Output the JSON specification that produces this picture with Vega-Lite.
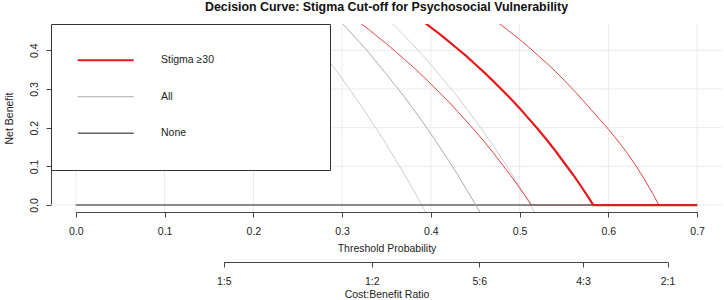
{
  "$schema": "https://vega.github.io/schema/vega-lite/v6.json",
  "width": 671,
  "height": 188,
  "autosize": {"type": "none"},
  "padding": {"left": 51, "top": 24, "right": 2, "bottom": 88},
  "background": "white",
  "title": {
    "text": "Decision Curve: Stigma Cut-off for Psychosocial Vulnerability",
    "anchor": "middle",
    "frame": "group",
    "offset": 10,
    "font": "Liberation Sans",
    "fontSize": 12.4,
    "fontWeight": "bold",
    "color": "#111111"
  },
  "config": {
    "view": {"stroke": null},
    "axis": {
      "domainColor": "#444444",
      "tickColor": "#444444",
      "tickSize": 5,
      "grid": false,
      "labelFont": "Liberation Sans",
      "labelFontSize": 10.5,
      "labelColor": "#222222",
      "titleFont": "Liberation Sans",
      "titleFontSize": 10.5,
      "titleFontWeight": "normal",
      "titleColor": "#222222",
      "labelFlush": false,
      "labelOverlap": false
    },
    "legend": {
      "orient": "top-left",
      "offset": 0,
      "padding": 31,
      "fillColor": "white",
      "strokeColor": "#333333",
      "symbolType": "M-4,0H4",
      "symbolSize": 196,
      "symbolFillColor": "transparent",
      "symbolOffset": 18.5,
      "labelOffset": 50,
      "rowPadding": 25.5,
      "labelFont": "Liberation Sans",
      "labelFontSize": 10.5,
      "labelColor": "#222222"
    }
  },
  "datasets": {
    "curves": [
      {"series": "None", "bound": "estimate", "t": 0.0, "nb": 0},
      {"series": "None", "bound": "estimate", "t": 0.7, "nb": 0},

      {"series": "All", "bound": "lower", "t": 0.24, "nb": 0.502},
      {"series": "All", "bound": "lower", "t": 0.25, "nb": 0.475},
      {"series": "All", "bound": "lower", "t": 0.26, "nb": 0.447},
      {"series": "All", "bound": "lower", "t": 0.27, "nb": 0.418},
      {"series": "All", "bound": "lower", "t": 0.28, "nb": 0.388},
      {"series": "All", "bound": "lower", "t": 0.29, "nb": 0.358},
      {"series": "All", "bound": "lower", "t": 0.30, "nb": 0.327},
      {"series": "All", "bound": "lower", "t": 0.31, "nb": 0.294},
      {"series": "All", "bound": "lower", "t": 0.32, "nb": 0.261},
      {"series": "All", "bound": "lower", "t": 0.33, "nb": 0.227},
      {"series": "All", "bound": "lower", "t": 0.34, "nb": 0.192},
      {"series": "All", "bound": "lower", "t": 0.35, "nb": 0.156},
      {"series": "All", "bound": "lower", "t": 0.36, "nb": 0.118},
      {"series": "All", "bound": "lower", "t": 0.37, "nb": 0.080},
      {"series": "All", "bound": "lower", "t": 0.38, "nb": 0.040},
      {"series": "All", "bound": "lower", "t": 0.39, "nb": -0.001},
      {"series": "All", "bound": "lower", "t": 0.40, "nb": -0.044},

      {"series": "All", "bound": "estimate", "t": 0.28, "nb": 0.518},
      {"series": "All", "bound": "estimate", "t": 0.29, "nb": 0.494},
      {"series": "All", "bound": "estimate", "t": 0.30, "nb": 0.470},
      {"series": "All", "bound": "estimate", "t": 0.31, "nb": 0.445},
      {"series": "All", "bound": "estimate", "t": 0.32, "nb": 0.420},
      {"series": "All", "bound": "estimate", "t": 0.33, "nb": 0.394},
      {"series": "All", "bound": "estimate", "t": 0.34, "nb": 0.366},
      {"series": "All", "bound": "estimate", "t": 0.35, "nb": 0.338},
      {"series": "All", "bound": "estimate", "t": 0.36, "nb": 0.309},
      {"series": "All", "bound": "estimate", "t": 0.37, "nb": 0.280},
      {"series": "All", "bound": "estimate", "t": 0.38, "nb": 0.249},
      {"series": "All", "bound": "estimate", "t": 0.39, "nb": 0.217},
      {"series": "All", "bound": "estimate", "t": 0.40, "nb": 0.184},
      {"series": "All", "bound": "estimate", "t": 0.41, "nb": 0.150},
      {"series": "All", "bound": "estimate", "t": 0.42, "nb": 0.115},
      {"series": "All", "bound": "estimate", "t": 0.43, "nb": 0.079},
      {"series": "All", "bound": "estimate", "t": 0.44, "nb": 0.041},
      {"series": "All", "bound": "estimate", "t": 0.45, "nb": 0.002},
      {"series": "All", "bound": "estimate", "t": 0.46, "nb": -0.038},

      {"series": "All", "bound": "upper", "t": 0.34, "nb": 0.506},
      {"series": "All", "bound": "upper", "t": 0.35, "nb": 0.484},
      {"series": "All", "bound": "upper", "t": 0.36, "nb": 0.461},
      {"series": "All", "bound": "upper", "t": 0.37, "nb": 0.438},
      {"series": "All", "bound": "upper", "t": 0.38, "nb": 0.414},
      {"series": "All", "bound": "upper", "t": 0.39, "nb": 0.389},
      {"series": "All", "bound": "upper", "t": 0.40, "nb": 0.363},
      {"series": "All", "bound": "upper", "t": 0.41, "nb": 0.336},
      {"series": "All", "bound": "upper", "t": 0.42, "nb": 0.308},
      {"series": "All", "bound": "upper", "t": 0.43, "nb": 0.280},
      {"series": "All", "bound": "upper", "t": 0.44, "nb": 0.250},
      {"series": "All", "bound": "upper", "t": 0.45, "nb": 0.219},
      {"series": "All", "bound": "upper", "t": 0.46, "nb": 0.187},
      {"series": "All", "bound": "upper", "t": 0.47, "nb": 0.154},
      {"series": "All", "bound": "upper", "t": 0.48, "nb": 0.120},
      {"series": "All", "bound": "upper", "t": 0.49, "nb": 0.084},
      {"series": "All", "bound": "upper", "t": 0.50, "nb": 0.047},
      {"series": "All", "bound": "upper", "t": 0.51, "nb": 0.008},
      {"series": "All", "bound": "upper", "t": 0.52, "nb": -0.032},

      {"series": "Stigma ≥30", "bound": "lower", "t": 0.30, "nb": 0.505},
      {"series": "Stigma ≥30", "bound": "lower", "t": 0.31, "nb": 0.489},
      {"series": "Stigma ≥30", "bound": "lower", "t": 0.32, "nb": 0.471},
      {"series": "Stigma ≥30", "bound": "lower", "t": 0.33, "nb": 0.454},
      {"series": "Stigma ≥30", "bound": "lower", "t": 0.34, "nb": 0.435},
      {"series": "Stigma ≥30", "bound": "lower", "t": 0.35, "nb": 0.417},
      {"series": "Stigma ≥30", "bound": "lower", "t": 0.36, "nb": 0.397},
      {"series": "Stigma ≥30", "bound": "lower", "t": 0.37, "nb": 0.377},
      {"series": "Stigma ≥30", "bound": "lower", "t": 0.38, "nb": 0.357},
      {"series": "Stigma ≥30", "bound": "lower", "t": 0.39, "nb": 0.335},
      {"series": "Stigma ≥30", "bound": "lower", "t": 0.40, "nb": 0.313},
      {"series": "Stigma ≥30", "bound": "lower", "t": 0.41, "nb": 0.290},
      {"series": "Stigma ≥30", "bound": "lower", "t": 0.42, "nb": 0.267},
      {"series": "Stigma ≥30", "bound": "lower", "t": 0.43, "nb": 0.242},
      {"series": "Stigma ≥30", "bound": "lower", "t": 0.44, "nb": 0.217},
      {"series": "Stigma ≥30", "bound": "lower", "t": 0.45, "nb": 0.191},
      {"series": "Stigma ≥30", "bound": "lower", "t": 0.46, "nb": 0.164},
      {"series": "Stigma ≥30", "bound": "lower", "t": 0.47, "nb": 0.136},
      {"series": "Stigma ≥30", "bound": "lower", "t": 0.48, "nb": 0.106},
      {"series": "Stigma ≥30", "bound": "lower", "t": 0.49, "nb": 0.076},
      {"series": "Stigma ≥30", "bound": "lower", "t": 0.50, "nb": 0.044},
      {"series": "Stigma ≥30", "bound": "lower", "t": 0.51, "nb": 0.012},
      {"series": "Stigma ≥30", "bound": "lower", "t": 0.513, "nb": 0},
      {"series": "Stigma ≥30", "bound": "lower", "t": 0.70, "nb": 0},

      {"series": "Stigma ≥30", "bound": "upper", "t": 0.45, "nb": 0.513},
      {"series": "Stigma ≥30", "bound": "upper", "t": 0.46, "nb": 0.498},
      {"series": "Stigma ≥30", "bound": "upper", "t": 0.47, "nb": 0.481},
      {"series": "Stigma ≥30", "bound": "upper", "t": 0.48, "nb": 0.464},
      {"series": "Stigma ≥30", "bound": "upper", "t": 0.49, "nb": 0.446},
      {"series": "Stigma ≥30", "bound": "upper", "t": 0.50, "nb": 0.428},
      {"series": "Stigma ≥30", "bound": "upper", "t": 0.51, "nb": 0.409},
      {"series": "Stigma ≥30", "bound": "upper", "t": 0.52, "nb": 0.388},
      {"series": "Stigma ≥30", "bound": "upper", "t": 0.53, "nb": 0.368},
      {"series": "Stigma ≥30", "bound": "upper", "t": 0.54, "nb": 0.346},
      {"series": "Stigma ≥30", "bound": "upper", "t": 0.55, "nb": 0.323},
      {"series": "Stigma ≥30", "bound": "upper", "t": 0.56, "nb": 0.299},
      {"series": "Stigma ≥30", "bound": "upper", "t": 0.57, "nb": 0.274},
      {"series": "Stigma ≥30", "bound": "upper", "t": 0.58, "nb": 0.248},
      {"series": "Stigma ≥30", "bound": "upper", "t": 0.59, "nb": 0.222},
      {"series": "Stigma ≥30", "bound": "upper", "t": 0.60, "nb": 0.196},
      {"series": "Stigma ≥30", "bound": "upper", "t": 0.61, "nb": 0.168},
      {"series": "Stigma ≥30", "bound": "upper", "t": 0.62, "nb": 0.138},
      {"series": "Stigma ≥30", "bound": "upper", "t": 0.63, "nb": 0.105},
      {"series": "Stigma ≥30", "bound": "upper", "t": 0.64, "nb": 0.069},
      {"series": "Stigma ≥30", "bound": "upper", "t": 0.65, "nb": 0.029},
      {"series": "Stigma ≥30", "bound": "upper", "t": 0.657, "nb": 0},
      {"series": "Stigma ≥30", "bound": "upper", "t": 0.70, "nb": 0},

      {"series": "Stigma ≥30", "bound": "estimate", "t": 0.37, "nb": 0.509},
      {"series": "Stigma ≥30", "bound": "estimate", "t": 0.38, "nb": 0.493},
      {"series": "Stigma ≥30", "bound": "estimate", "t": 0.39, "nb": 0.477},
      {"series": "Stigma ≥30", "bound": "estimate", "t": 0.40, "nb": 0.459},
      {"series": "Stigma ≥30", "bound": "estimate", "t": 0.41, "nb": 0.442},
      {"series": "Stigma ≥30", "bound": "estimate", "t": 0.42, "nb": 0.423},
      {"series": "Stigma ≥30", "bound": "estimate", "t": 0.43, "nb": 0.404},
      {"series": "Stigma ≥30", "bound": "estimate", "t": 0.44, "nb": 0.385},
      {"series": "Stigma ≥30", "bound": "estimate", "t": 0.45, "nb": 0.364},
      {"series": "Stigma ≥30", "bound": "estimate", "t": 0.46, "nb": 0.343},
      {"series": "Stigma ≥30", "bound": "estimate", "t": 0.47, "nb": 0.321},
      {"series": "Stigma ≥30", "bound": "estimate", "t": 0.48, "nb": 0.298},
      {"series": "Stigma ≥30", "bound": "estimate", "t": 0.49, "nb": 0.275},
      {"series": "Stigma ≥30", "bound": "estimate", "t": 0.50, "nb": 0.250},
      {"series": "Stigma ≥30", "bound": "estimate", "t": 0.51, "nb": 0.224},
      {"series": "Stigma ≥30", "bound": "estimate", "t": 0.52, "nb": 0.198},
      {"series": "Stigma ≥30", "bound": "estimate", "t": 0.53, "nb": 0.170},
      {"series": "Stigma ≥30", "bound": "estimate", "t": 0.54, "nb": 0.141},
      {"series": "Stigma ≥30", "bound": "estimate", "t": 0.55, "nb": 0.110},
      {"series": "Stigma ≥30", "bound": "estimate", "t": 0.56, "nb": 0.079},
      {"series": "Stigma ≥30", "bound": "estimate", "t": 0.57, "nb": 0.046},
      {"series": "Stigma ≥30", "bound": "estimate", "t": 0.58, "nb": 0.011},
      {"series": "Stigma ≥30", "bound": "estimate", "t": 0.583, "nb": 0},
      {"series": "Stigma ≥30", "bound": "estimate", "t": 0.70, "nb": 0}
    ],
    "gridX": [{"t": 0.0}, {"t": 0.1}, {"t": 0.2}, {"t": 0.3}, {"t": 0.4}, {"t": 0.5}, {"t": 0.6}, {"t": 0.7}],
    "gridY": [{"nb": 0.0}, {"nb": 0.1}, {"nb": 0.2}, {"nb": 0.3}, {"nb": 0.4}],
    "ratios": [
      {"ratio": "1:5", "t": 0.16667},
      {"ratio": "1:2", "t": 0.33333},
      {"ratio": "5:6", "t": 0.45455},
      {"ratio": "4:3", "t": 0.57143},
      {"ratio": "2:1", "t": 0.66667}
    ]
  },
  "layer": [
    {
      "layer": [
        {
          "data": {"name": "gridX"},
          "mark": {"type": "rule", "color": "#ebebeb", "strokeWidth": 1},
          "encoding": {
            "x": {"field": "t", "type": "quantitative",
                  "scale": {"domain": [0, 0.7], "range": [{"expr": "width*0.028/0.756"}, {"expr": "width*0.728/0.756"}], "nice": false, "zero": false},
                  "axis": {"values": [0, 0.1, 0.2, 0.3, 0.4, 0.5, 0.6, 0.7], "format": ".1f", "title": "Threshold Probability", "labelPadding": 9, "titlePadding": 7}}
          }
        },
        {
          "data": {"name": "gridY"},
          "mark": {"type": "rule", "color": "#ebebeb", "strokeWidth": 1},
          "encoding": {
            "y": {"field": "nb", "type": "quantitative",
                  "scale": {"domain": [0, 0.4], "range": [{"expr": "height*0.468/0.486"}, {"expr": "height*0.068/0.486"}], "nice": false, "zero": false},
                  "axis": {"values": [0, 0.1, 0.2, 0.3, 0.4], "format": ".1f", "title": "Net Benefit", "labelAngle": 270, "labelAlign": "center", "labelBaseline": "bottom", "labelPadding": 7, "titlePadding": 15, "titleY": {"expr": "height/2"}}}
          }
        },
        {
          "data": {"name": "curves"},
          "transform": [{"filter": "datum.series === 'All' && datum.bound !== 'estimate'"}],
          "mark": {"type": "line", "clip": true, "color": "#cfcfcf", "strokeWidth": 1},
          "encoding": {
            "x": {"field": "t", "type": "quantitative", "scale": {"domain": [0, 0.7], "range": [{"expr": "width*0.028/0.756"}, {"expr": "width*0.728/0.756"}], "nice": false, "zero": false}},
            "y": {"field": "nb", "type": "quantitative", "scale": {"domain": [0, 0.4], "range": [{"expr": "height*0.468/0.486"}, {"expr": "height*0.068/0.486"}], "nice": false, "zero": false}},
            "detail": {"field": "bound"}
          }
        },
        {
          "data": {"name": "curves"},
          "transform": [{"filter": "datum.series === 'Stigma ≥30' && datum.bound !== 'estimate'"}],
          "mark": {"type": "line", "clip": true, "color": "#e34448", "strokeWidth": 1},
          "encoding": {
            "x": {"field": "t", "type": "quantitative", "scale": {"domain": [0, 0.7], "range": [{"expr": "width*0.028/0.756"}, {"expr": "width*0.728/0.756"}], "nice": false, "zero": false}},
            "y": {"field": "nb", "type": "quantitative", "scale": {"domain": [0, 0.4], "range": [{"expr": "height*0.468/0.486"}, {"expr": "height*0.068/0.486"}], "nice": false, "zero": false}},
            "detail": {"field": "bound"}
          }
        },
        {
          "data": {"name": "curves"},
          "transform": [{"filter": "datum.series === 'None'"}],
          "mark": {"type": "line", "clip": true, "strokeWidth": 1.4},
          "encoding": {
            "x": {"field": "t", "type": "quantitative", "scale": {"domain": [0, 0.7], "range": [{"expr": "width*0.028/0.756"}, {"expr": "width*0.728/0.756"}], "nice": false, "zero": false}},
            "y": {"field": "nb", "type": "quantitative", "scale": {"domain": [0, 0.4], "range": [{"expr": "height*0.468/0.486"}, {"expr": "height*0.068/0.486"}], "nice": false, "zero": false}},
            "color": {"field": "series", "type": "nominal", "title": null,
                      "scale": {"domain": ["Stigma ≥30", "All", "None"], "range": ["#e41a1c", "#aaaaaa", "#666666"]},
                      "legend": {
                        "labelExpr": "datum.label + '\u00a0\u00a0\u00a0\u00a0\u00a0\u00a0\u00a0\u00a0\u00a0\u00a0\u00a0\u00a0\u00a0\u00a0\u00a0\u00a0\u00a0\u00a0\u00a0\u00a0\u00a0\u00a0\u00a0\u00a0\u00a0\u00a0\u00a0\u00a0\u00a0\u200b'",
                        "encode": {"symbols": {"update": {"strokeWidth": {"signal": "datum.value === 'Stigma ≥30' ? 2.2 : (datum.value === 'None' ? 1.4 : 1)"}}}}
                      }}
          }
        },
        {
          "data": {"name": "curves"},
          "transform": [{"filter": "datum.series === 'All' && datum.bound === 'estimate'"}],
          "mark": {"type": "line", "clip": true, "strokeWidth": 1},
          "encoding": {
            "x": {"field": "t", "type": "quantitative", "scale": {"domain": [0, 0.7], "range": [{"expr": "width*0.028/0.756"}, {"expr": "width*0.728/0.756"}], "nice": false, "zero": false}},
            "y": {"field": "nb", "type": "quantitative", "scale": {"domain": [0, 0.4], "range": [{"expr": "height*0.468/0.486"}, {"expr": "height*0.068/0.486"}], "nice": false, "zero": false}},
            "color": {"field": "series", "type": "nominal", "title": null,
                      "scale": {"domain": ["Stigma ≥30", "All", "None"], "range": ["#e41a1c", "#aaaaaa", "#666666"]}}
          }
        },
        {
          "data": {"name": "curves"},
          "transform": [{"filter": "datum.series === 'Stigma ≥30' && datum.bound === 'estimate'"}],
          "mark": {"type": "line", "clip": true, "strokeWidth": 2.2},
          "encoding": {
            "x": {"field": "t", "type": "quantitative", "scale": {"domain": [0, 0.7], "range": [{"expr": "width*0.028/0.756"}, {"expr": "width*0.728/0.756"}], "nice": false, "zero": false}},
            "y": {"field": "nb", "type": "quantitative", "scale": {"domain": [0, 0.4], "range": [{"expr": "height*0.468/0.486"}, {"expr": "height*0.068/0.486"}], "nice": false, "zero": false}},
            "color": {"field": "series", "type": "nominal", "title": null,
                      "scale": {"domain": ["Stigma ≥30", "All", "None"], "range": ["#e41a1c", "#aaaaaa", "#666666"]}}
          }
        }
      ]
    },
    {
      "data": {"name": "ratios"},
      "mark": {"type": "point", "opacity": 0},
      "encoding": {
        "x": {"field": "t", "type": "quantitative",
              "scale": {"domain": [0.16667, 0.66667], "range": [{"expr": "width*(0.16667+0.028)/0.756"}, {"expr": "width*(0.66667+0.028)/0.756"}], "nice": false, "zero": false},
              "axis": {"orient": "bottom", "offset": 50, "values": [0.16667, 0.33333, 0.45455, 0.57143, 0.66667],
                       "labelExpr": "datum.value < 0.25 ? '1:5' : datum.value < 0.4 ? '1:2' : datum.value < 0.5 ? '5:6' : datum.value < 0.62 ? '4:3' : '2:1'",
                       "title": "Cost:Benefit Ratio", "labelPadding": 9, "titlePadding": 3, "titleX": {"expr": "width/2"}}}
      }
    }
  ],
  "resolve": {"scale": {"x": "independent"}}
}
